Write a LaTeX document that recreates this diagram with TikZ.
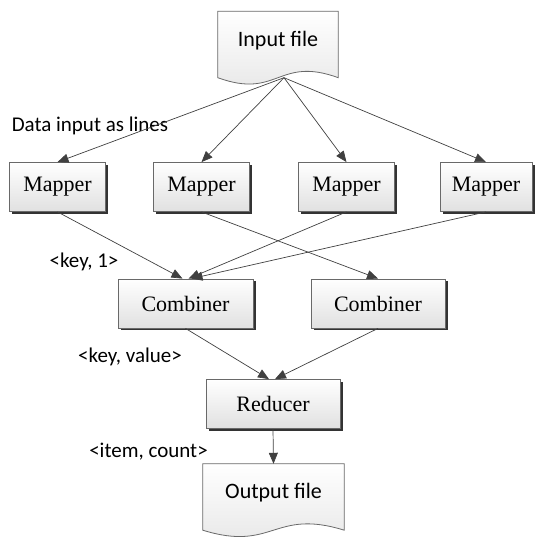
\documentclass[tikz,border=0pt]{standalone}
\usepackage{fontspec}
\setmainfont{Liberation Serif}
\newfontfamily\calibri{Carlito}
\usetikzlibrary{arrows.meta,positioning,calc,shadows}
\definecolor{edgegray}{RGB}{64,64,64}
\definecolor{boxgray}{RGB}{105,105,105}
\pgfdeclarelayer{bg}
\pgfsetlayers{bg,main}
\newcommand{\docshape}[1]{%
  \begin{pgfonlayer}{bg}
    \draw[draw=boxgray,line width=0.8pt,top color=white,bottom color=black!10]
      (#1.north west) -- (#1.north east) -- (#1.south east)
      .. controls ($(#1.south)+(0,22)$) and ($(#1.south)+(0,-22)$) .. (#1.south west) -- cycle;
  \end{pgfonlayer}}

\begin{document}
\begin{tikzpicture}[x=1pt,y=1pt,
    task/.style={draw=boxgray,line width=0.8pt,top color=white,bottom color=black!12,
      drop shadow={shadow xshift=2.5pt,shadow yshift=-2.5pt,fill=black!80,opacity=1},
      minimum height=49pt,font=\fontsize{22}{24}\selectfont},
    docnode/.style={minimum width=#1,minimum height=66pt,text depth=12pt,
      font=\calibri\fontsize{22}{24}\selectfont},
    lbl/.style={font=\calibri\fontsize{21}{24}\selectfont},
    flow/.style={draw=edgegray,line width=0.7pt,-{Triangle[length=11pt,width=9pt]}}]
  \useasboundingbox (0,0) rectangle (535,540);
  \node[docnode=120pt] (input) at (278,495.5) {Input file};
  \docshape{input}
  \coordinate (inpt) at ($(input.south)+(6,0)$);

  \node[task,minimum width=96pt] (map1) at (57.5,353) {Mapper};
  \node[task,minimum width=96pt] (map2) at (201.5,353) {Mapper};
  \node[task,minimum width=96pt] (map3) at (346.5,353) {Mapper};
  \node[task,minimum width=92pt] (map4) at (486,353) {Mapper};

  \node[task,minimum width=135pt] (comb1) at (185.5,236.5) {Combiner};
  \node[task,minimum width=134pt] (comb2) at (378,236.5) {Combiner};

  \node[task,minimum width=134pt] (red) at (273,136) {Reducer};

  \node[docnode=141pt] (output) at (273.5,43) {Output file};
  \docshape{output}

  \node[lbl] (lblin) at (90,414) {Data input as lines};
  \node[lbl] (lblmap) at (84,278) {<key, 1>};
  \node[lbl] (lblcomb) at (130,183) {<key, value>};
  \node[lbl] (lblred) at (148.5,88) {<item, count>};

  \foreach \m in {map1,map2,map3,map4}
    \draw[flow] (inpt) -- (\m.north);
  \draw[flow] (map1.south) -- ([xshift=-3pt]comb1.north);
  \draw[flow] (map3.south) -- ([xshift=3pt]comb1.north);
  \draw[flow] (map4.south) -- ([xshift=6pt]comb1.north);
  \draw[flow] (map2.south) -- (comb2.north);
  \draw[flow] (comb1.south) -- ([xshift=-4pt]red.north);
  \draw[flow] (comb2.south) -- ([xshift=2pt]red.north);
  \draw[flow] (red.south) -- (output.north);
\end{tikzpicture}
\end{document}
